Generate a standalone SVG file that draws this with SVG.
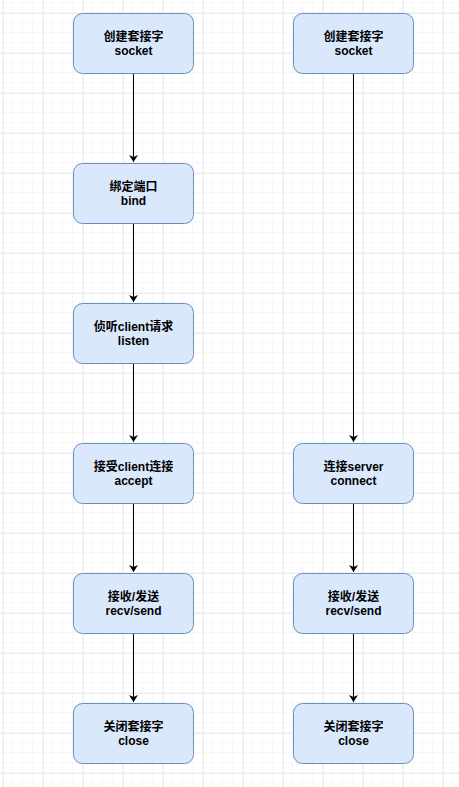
<svg xmlns="http://www.w3.org/2000/svg" width="459" height="787" viewBox="0 0 459 787">
<defs>
<pattern id="minor" x="3" y="3" width="10" height="10" patternUnits="userSpaceOnUse"><path d="M10 0V10M0 10H10" fill="none" stroke="#f6f6f6" stroke-width="1" transform="translate(-0.5,-0.5)"/></pattern>
<pattern id="major" x="3" y="13" width="40" height="40" patternUnits="userSpaceOnUse"><path d="M0.5 0V40M0 0.5H40" fill="none" stroke="#ececec" stroke-width="1"/></pattern>
<marker id="arr" viewBox="0 0 8 9" refX="7" refY="4.5" markerWidth="8" markerHeight="9" markerUnits="userSpaceOnUse" orient="auto"><path d="M0 0L7 4.5L0 9L2 4.5Z" fill="#000"/></marker>
</defs>
<style>
.n rect{fill:#dae8fc;stroke:#6c8ebf;stroke-width:1}
.n text{font-family:"Liberation Sans","Noto Sans CJK SC",sans-serif;font-size:12px;font-weight:bold;fill:#000;text-anchor:middle}
.e path{fill:none;stroke:#000;stroke-width:1;marker-end:url(#arr)}
</style>
<rect width="459" height="787" fill="#fff"/>
<rect width="459" height="787" fill="url(#minor)"/>
<rect width="459" height="787" fill="url(#major)"/>
<g id="edges" class="e">
<path d="M133.5 73.5V162"/>
<path d="M133.5 223.5V302"/>
<path d="M133.5 363.5V442"/>
<path d="M133.5 503.5V572"/>
<path d="M133.5 633.5V702"/>
<path d="M353.5 73.5V442"/>
<path d="M353.5 503.5V572"/>
<path d="M353.5 633.5V702"/>
</g>
<g id="s1" class="n"><rect x="73.5" y="13.5" width="120" height="60" rx="9"/><text x="133.5" y="40.5">创建套接字</text><text x="133.5" y="54.5">socket</text></g>
<g id="s2" class="n"><rect x="73.5" y="163.5" width="120" height="60" rx="9"/><text x="133.5" y="190.5">绑定端口</text><text x="133.5" y="204.5">bind</text></g>
<g id="s3" class="n"><rect x="73.5" y="303.5" width="120" height="60" rx="9"/><text x="133.5" y="330.5">侦听client请求</text><text x="133.5" y="344.5">listen</text></g>
<g id="s4" class="n"><rect x="73.5" y="443.5" width="120" height="60" rx="9"/><text x="133.5" y="470.5">接受client连接</text><text x="133.5" y="484.5">accept</text></g>
<g id="s5" class="n"><rect x="73.5" y="573.5" width="120" height="60" rx="9"/><text x="133.5" y="600.5">接收/发送</text><text x="133.5" y="614.5">recv/send</text></g>
<g id="s6" class="n"><rect x="73.5" y="703.5" width="120" height="60" rx="9"/><text x="133.5" y="730.5">关闭套接字</text><text x="133.5" y="744.5">close</text></g>
<g id="c1" class="n"><rect x="293.5" y="13.5" width="120" height="60" rx="9"/><text x="353.5" y="40.5">创建套接字</text><text x="353.5" y="54.5">socket</text></g>
<g id="c2" class="n"><rect x="293.5" y="443.5" width="120" height="60" rx="9"/><text x="353.5" y="470.5">连接server</text><text x="353.5" y="484.5">connect</text></g>
<g id="c3" class="n"><rect x="293.5" y="573.5" width="120" height="60" rx="9"/><text x="353.5" y="600.5">接收/发送</text><text x="353.5" y="614.5">recv/send</text></g>
<g id="c4" class="n"><rect x="293.5" y="703.5" width="120" height="60" rx="9"/><text x="353.5" y="730.5">关闭套接字</text><text x="353.5" y="744.5">close</text></g>
</svg>
